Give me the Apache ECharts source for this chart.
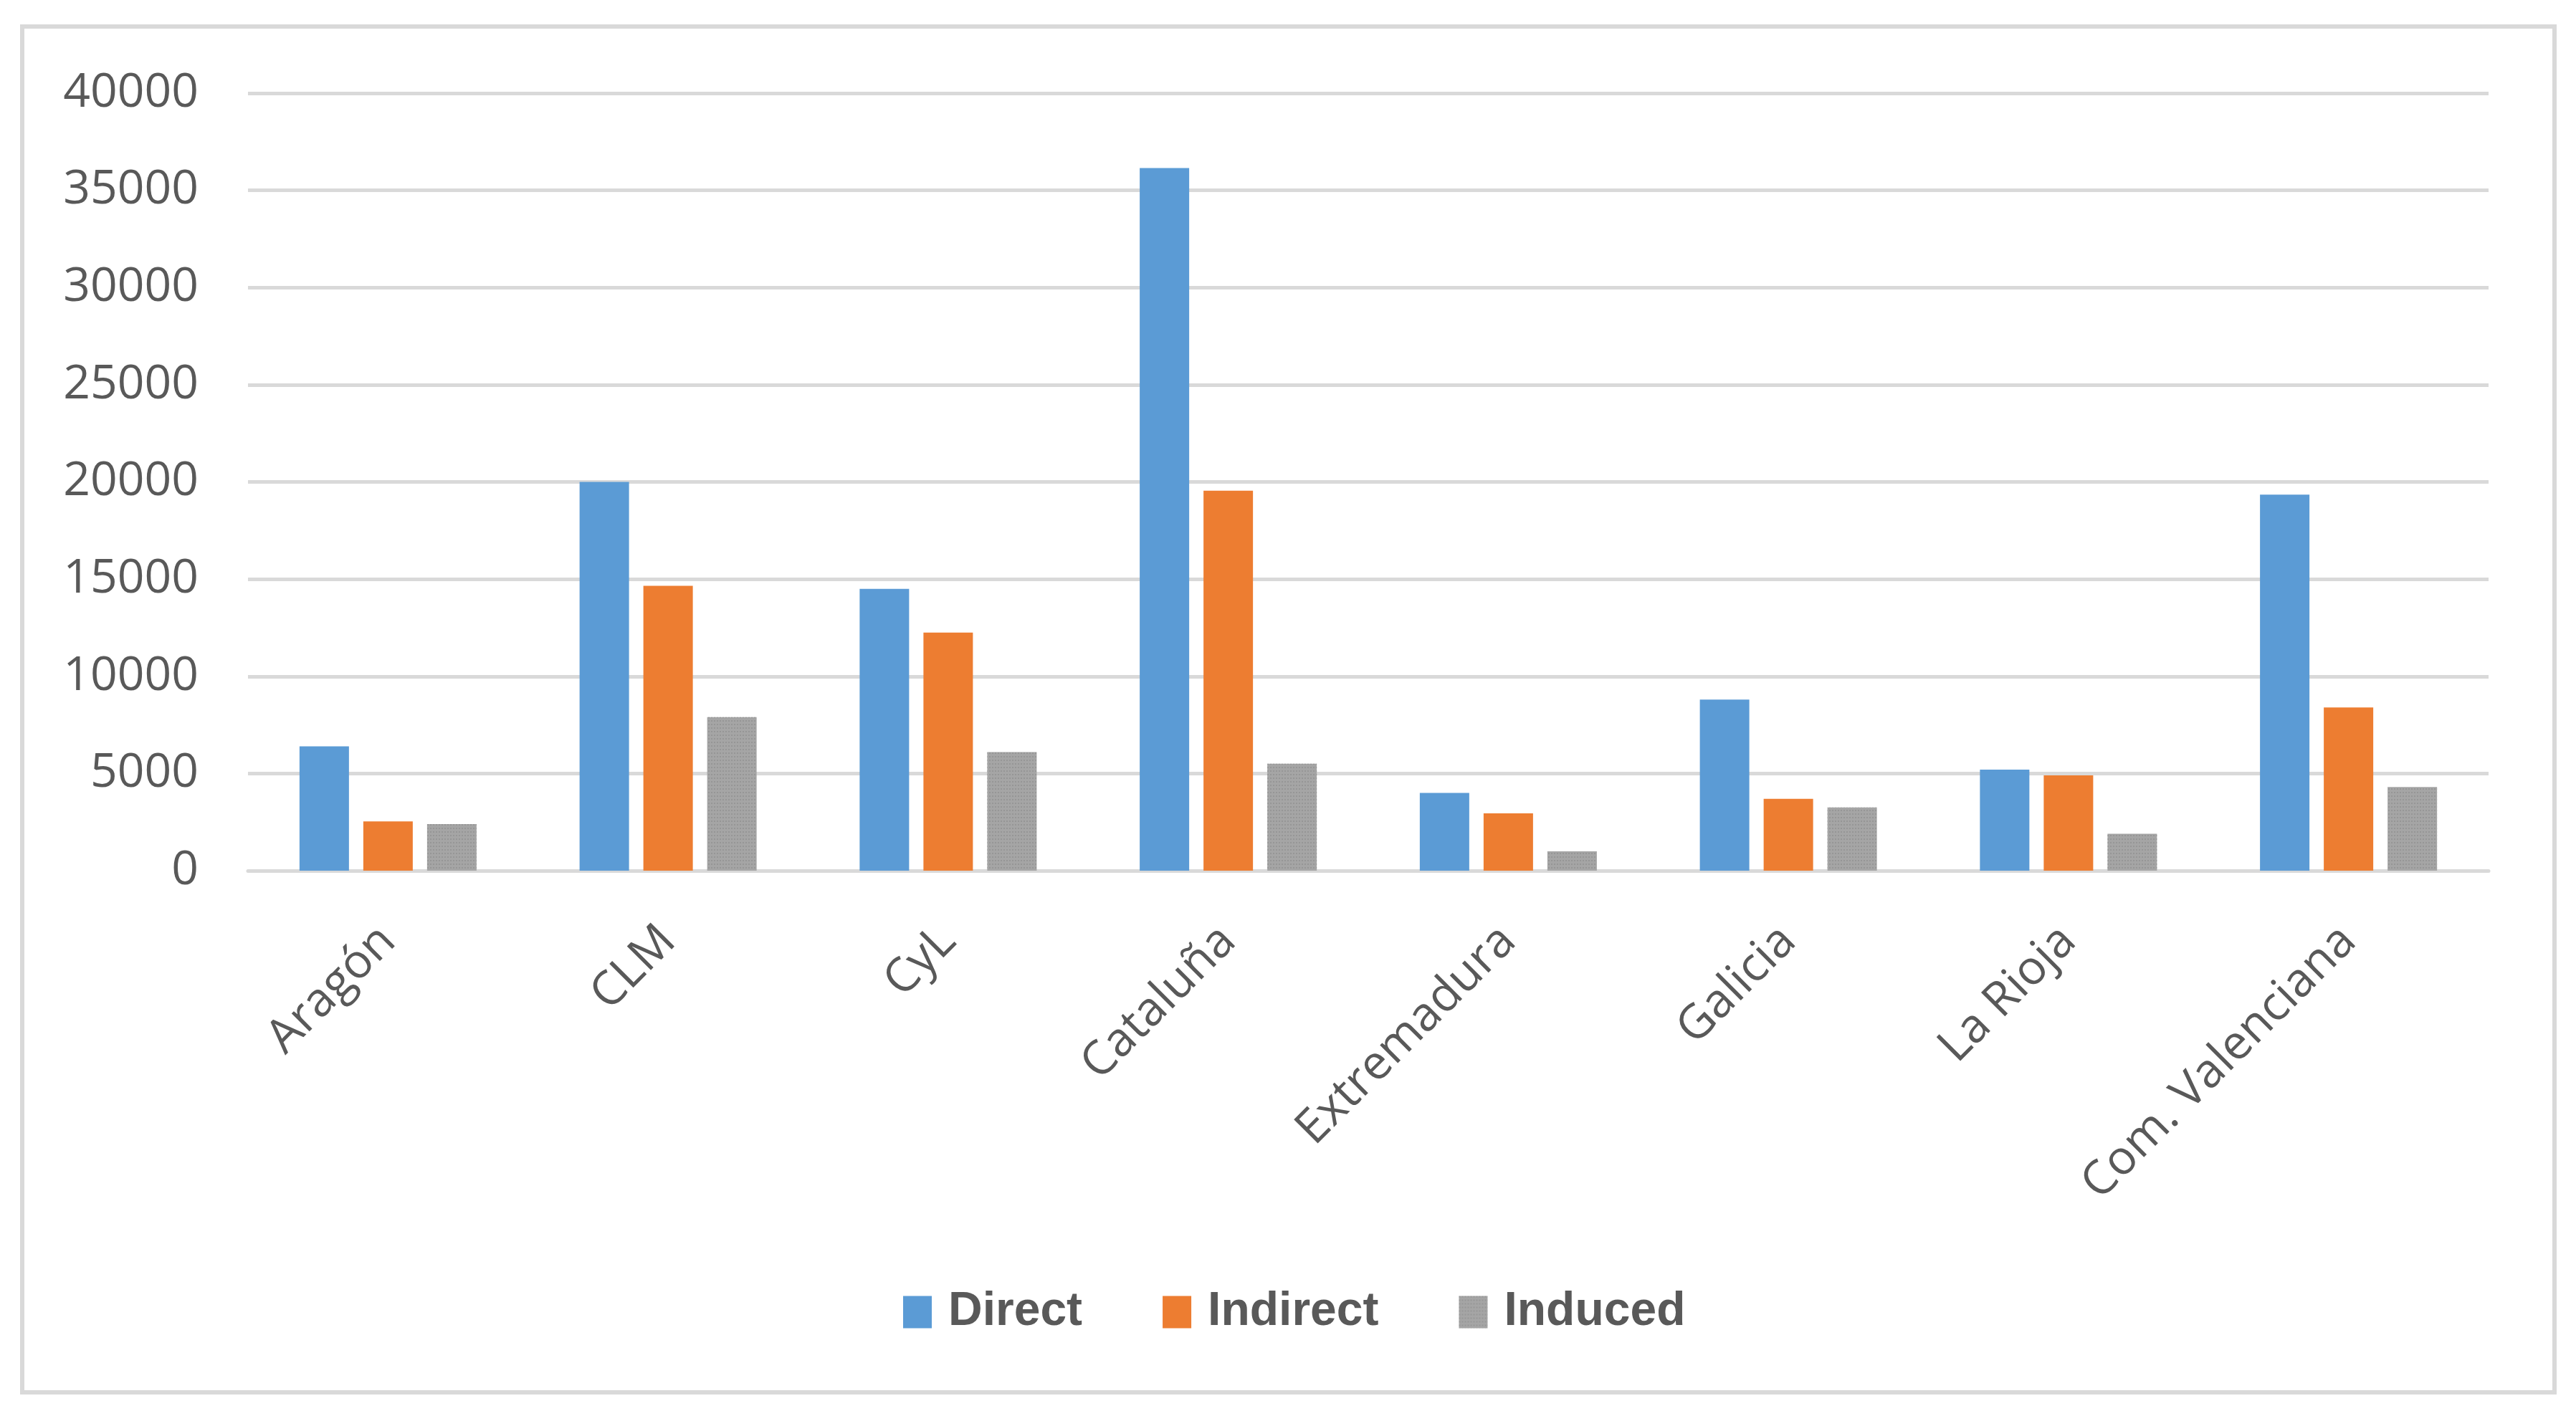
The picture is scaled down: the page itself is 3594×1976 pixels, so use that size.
<!DOCTYPE html>
<html>
<head>
<meta charset="utf-8">
<script src="https://cdn.jsdelivr.net/npm/echarts@6/dist/echarts.min.js"></script>
<style>
html,body{margin:0;padding:0;background:#fff;}
#chart{width:3594px;height:1976px;}
</style>
</head>
<body>
<div id="chart"></div>
<script>
const categories = ['Aragón', 'CLM', 'CyL', 'Cataluña', 'Extremadura', 'Galicia', 'La Rioja', 'Com. Valenciana'];
const directValues   = [6400, 20000, 14500, 36150, 4000, 8800, 5200, 19350];
const indirectValues = [2530, 14650, 12250, 19550, 2950, 3700, 4900, 8400];
const inducedValues  = [2400, 7900, 6100, 5500, 1000, 3250, 1900, 4300];
const seriesNames = ['Direct', 'Indirect', 'Induced'];
const yTicks = { min: 0, max: 40000, interval: 5000 };

const chart = echarts.init(document.getElementById('chart'), null, { renderer: 'canvas' });
const labelColor = '#595959';
const font = '"Open Sans", "Liberation Sans", sans-serif';

chart.setOption({
  animation: false,
  backgroundColor: '#ffffff',
  graphic: [{
    type: 'rect',
    shape: { x: 31, y: 37, width: 3533, height: 1906 },
    style: { fill: 'none', stroke: '#D9D9D9', lineWidth: 6 },
    silent: true
  }],
  grid: { left: 346, right: 122, top: 130, bottom: 761, containLabel: false },
  legend: {
    data: seriesNames,
    left: 1260,
    top: 1798,
    padding: 0,
    icon: 'rect',
    itemWidth: 40,
    itemHeight: 45,
    itemGap: 112,
    textStyle: {
      color: labelColor,
      fontSize: 66,
      fontWeight: 'bold',
      fontFamily: '"Liberation Sans", Arial, sans-serif',
      padding: [0, 0, 0, 18]
    }
  },
  xAxis: {
    type: 'category',
    data: categories,
    axisLine: { show: true, lineStyle: { color: '#D9D9D9', width: 5 } },
    axisTick: { show: false },
    axisLabel: {
      rotate: 45,
      margin: 88,
      color: labelColor,
      fontSize: 66,
      fontFamily: font,
      interval: 0
    }
  },
  yAxis: {
    type: 'value',
    min: yTicks.min,
    max: yTicks.max,
    interval: yTicks.interval,
    axisLine: { show: false },
    axisTick: { show: false },
    splitLine: { lineStyle: { color: '#D9D9D9', width: 5 } },
    axisLabel: {
      color: labelColor,
      fontSize: 66,
      fontFamily: font,
      margin: 69,
      formatter: function (v) { return String(v); }
    }
  },
  series: [
    { name: seriesNames[0], type: 'bar', data: directValues, barWidth: 69, barGap: '29%', itemStyle: { color: '#5B9BD5' } },
    { name: seriesNames[1], type: 'bar', data: indirectValues, barWidth: 69, barGap: '29%', itemStyle: { color: '#ED7D31' } },
    { name: seriesNames[2], type: 'bar', data: inducedValues, barWidth: 69, barGap: '29%',
      itemStyle: {
        color: '#A5A5A5',
        decal: { symbol: 'rect', symbolSize: 1, color: 'rgba(140,140,140,0.6)', dashArrayX: [2, 2], dashArrayY: [2, 3], rotation: 0 }
      } }
  ]
});
</script>
</body>
</html>
